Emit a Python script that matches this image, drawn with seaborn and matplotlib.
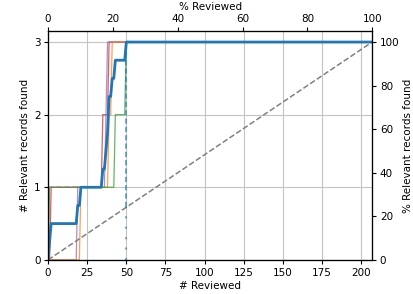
import numpy as np
import pandas as pd
import seaborn as sns
import matplotlib
matplotlib.use("Agg")
import matplotlib.pyplot as plt

# Simulation data: total records and the position at which each relevant
# record was found, one list per simulation run
N_RECORDS = 207
N_RELEVANT = 3
run_red = [2, 35, 39]
run_purple = [19, 37, 38]
run_orange = [21, 39, 41]
run_green = [1, 43, 50]
wss_position = 50  # all relevant records found

run_names = ["red", "purple", "orange", "green"]
run_colors = ["#d62728", "#9467bd", "#ff7f0e", "#2ca02c"]
runs = [run_red, run_purple, run_orange, run_green]

x_ticks = [0, 25, 50, 75, 100, 125, 150, 175, 200]
y_ticks = [0, 1, 2, 3]
pct_ticks = [0, 20, 40, 60, 80, 100]


def recall_curve(found):
    """Cumulative relevant count after each reviewed record."""
    xs = np.arange(0, N_RECORDS + 1)
    ys = [sum(1 for f in found if f <= x) for x in xs]
    return xs, ys


frames = []
for name, found in zip(run_names, runs):
    xs, ys = recall_curve(found)
    frames.append(pd.DataFrame({"reviewed": xs, "found": ys, "run": name}))
df = pd.concat(frames, ignore_index=True)

plt.rcParams["font.size"] = 7.5
plt.rcParams["xtick.major.size"] = 3
plt.rcParams["ytick.major.size"] = 3
plt.rcParams["xtick.major.pad"] = 2.5
plt.rcParams["ytick.major.pad"] = 2.5
plt.rcParams["axes.labelpad"] = 2.5

fig, ax = plt.subplots(figsize=(4.14, 2.94), dpi=100)
fig.subplots_adjust(left=0.116, right=0.899, top=0.894, bottom=0.116)

# individual runs
sns.lineplot(data=df, x="reviewed", y="found", hue="run", hue_order=run_names,
             palette=run_colors, lw=0.9, alpha=0.75, legend=False, ax=ax)

# random reviewing
ax.plot([0, N_RECORDS], [0, N_RELEVANT], color="gray", ls="--", lw=1.1)
ax.plot([0, 21], [1, 1], color="gray", ls="--", lw=1.1, alpha=0.6)

# WSS line
y_rand = wss_position / N_RECORDS * N_RELEVANT
ax.plot([wss_position, wss_position], [y_rand, N_RELEVANT], color="#1f77b4",
        ls=(0, (2.5, 1.5)), lw=1.5, alpha=0.6)
ax.plot([wss_position, wss_position], [0, y_rand], color="#1f77b4",
        ls=(0, (1, 4)), lw=1.5, alpha=0.6)

# mean over runs
sns.lineplot(data=df, x="reviewed", y="found", estimator="mean", errorbar=None,
             color="#1f77b4", lw=2.0, ax=ax)

ax.set_xlim(0, N_RECORDS)
ax.set_ylim(0, N_RELEVANT * 1.05)
ax.set_xticks(x_ticks)
ax.set_yticks(y_ticks)
ax.grid(True, color="#c4c4c4", lw=0.8)
ax.set_axisbelow(True)
ax.set_xlabel("# Reviewed")
ax.set_ylabel("# Relevant records found")

ax_top = ax.twiny()
ax_top.set_xlim(0, 100)
ax_top.set_xticks(pct_ticks)
ax_top.set_xlabel("% Reviewed")

ax_right = ax.twinx()
ax_right.set_ylim(0, 105)
ax_right.set_yticks(pct_ticks)
ax_right.set_ylabel("% Relevant records found")

fig.savefig("out.png", dpi=100)
